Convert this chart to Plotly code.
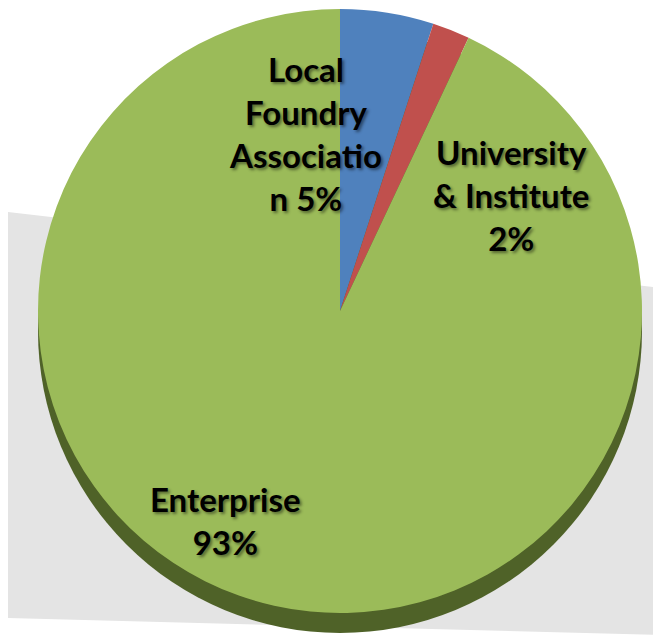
import plotly.graph_objects as go

categories = ["Local Foundry Association", "University & Institute", "Enterprise"]
shares = [5, 2, 93]
label_lines = [["Local", "Foundry", "Associatio", "n 5%"],
               ["University", "& Institute", "2%"],
               ["Enterprise", "93%"]]
colors = ["#4F81BD", "#C0504D", "#9BBB59"]

OFF = 8  # default page body margin
W, H = 661 - OFF, 635 - OFF
cx, cy, r = 340, 311, 302  # pixel centre / radius in window coords


def px(x):
    return min(1.0, max(0.0, (x - OFF) / W))


def py(y):
    return min(1.0, max(0.0, 1 - (y - OFF) / H))


def pyu(y):
    return 1 - (y - OFF) / H


fig = go.Figure()
fig.add_trace(go.Pie(
    labels=categories,
    values=shares,
    sort=False,
    direction="clockwise",
    rotation=0,
    marker=dict(colors=colors, line=dict(width=0)),
    textinfo="none",
    hoverinfo="label+percent",
    showlegend=False,
    domain=dict(x=[px(cx - r), px(cx + r)], y=[py(cy + r), py(cy - r)]),
))

shapes = [
    # gray tilted floor plane
    dict(type="path", xref="paper", yref="paper",
         path=f"M 0 {pyu(212)} L 1 {pyu(288)} L 1 0 L 0 {pyu(618)} Z",
         fillcolor="#E4E4E4", line=dict(width=0), layer="below"),
    # 3D dark rim under the pie
    dict(type="circle", xref="paper", yref="paper",
         x0=px(cx - r), x1=px(cx + r), y0=pyu(cy + r + 20), y1=pyu(cy - r + 20),
         fillcolor="#4F6228", line=dict(width=0), layer="below"),
]

label_pos = [(305, 134), (511, 195), (225, 520)]
annotations = []
for lines, (x, y) in zip(label_lines, label_pos):
    annotations.append(dict(
        text="<br>".join(lines), x=px(x), y=py(y), xref="paper", yref="paper",
        showarrow=False, align="center", xanchor="center", yanchor="middle",
        font=dict(family="Lato", size=33, color="#000000", weight="bold",
                  shadow="2px 2px 3px rgba(0,0,0,0.45)"),
    ))

fig.update_layout(
    width=W, height=H,
    margin=dict(l=0, r=0, t=0, b=0),
    paper_bgcolor="white",
    shapes=shapes,
    annotations=annotations,
)

fig.write_html("out.html")
